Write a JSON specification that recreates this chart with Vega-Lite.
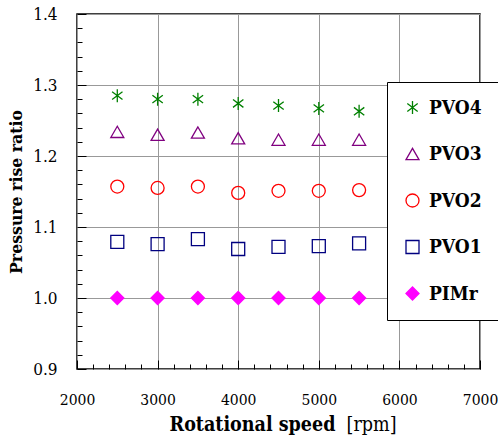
{
  "$schema": "https://vega.github.io/schema/vega-lite/v6.json",
  "width": 403,
  "height": 355,
  "autosize": {"type": "none"},
  "padding": {"left": 77, "top": 14, "right": 18, "bottom": 75},
  "background": "white",
  "config": {
    "view": {"stroke": "black", "strokeWidth": 1.5},
    "font": "DejaVu Serif Condensed"
  },
  "data": {
    "values": [
      {"speed": 2500, "ratio": 1.285, "series": "PVO4"},
      {"speed": 3000, "ratio": 1.280, "series": "PVO4"},
      {"speed": 3500, "ratio": 1.280, "series": "PVO4"},
      {"speed": 4000, "ratio": 1.274, "series": "PVO4"},
      {"speed": 4500, "ratio": 1.271, "series": "PVO4"},
      {"speed": 5000, "ratio": 1.267, "series": "PVO4"},
      {"speed": 5500, "ratio": 1.263, "series": "PVO4"},
      {"speed": 2500, "ratio": 1.234, "series": "PVO3"},
      {"speed": 3000, "ratio": 1.230, "series": "PVO3"},
      {"speed": 3500, "ratio": 1.233, "series": "PVO3"},
      {"speed": 4000, "ratio": 1.225, "series": "PVO3"},
      {"speed": 4500, "ratio": 1.223, "series": "PVO3"},
      {"speed": 5000, "ratio": 1.223, "series": "PVO3"},
      {"speed": 5500, "ratio": 1.223, "series": "PVO3"},
      {"speed": 2500, "ratio": 1.157, "series": "PVO2"},
      {"speed": 3000, "ratio": 1.155, "series": "PVO2"},
      {"speed": 3500, "ratio": 1.157, "series": "PVO2"},
      {"speed": 4000, "ratio": 1.148, "series": "PVO2"},
      {"speed": 4500, "ratio": 1.151, "series": "PVO2"},
      {"speed": 5000, "ratio": 1.151, "series": "PVO2"},
      {"speed": 5500, "ratio": 1.152, "series": "PVO2"},
      {"speed": 2500, "ratio": 1.079, "series": "PVO1"},
      {"speed": 3000, "ratio": 1.076, "series": "PVO1"},
      {"speed": 3500, "ratio": 1.083, "series": "PVO1"},
      {"speed": 4000, "ratio": 1.069, "series": "PVO1"},
      {"speed": 4500, "ratio": 1.072, "series": "PVO1"},
      {"speed": 5000, "ratio": 1.073, "series": "PVO1"},
      {"speed": 5500, "ratio": 1.077, "series": "PVO1"},
      {"speed": 2500, "ratio": 1.0, "series": "PIMr"},
      {"speed": 3000, "ratio": 1.0, "series": "PIMr"},
      {"speed": 3500, "ratio": 1.0, "series": "PIMr"},
      {"speed": 4000, "ratio": 1.0, "series": "PIMr"},
      {"speed": 4500, "ratio": 1.0, "series": "PIMr"},
      {"speed": 5000, "ratio": 1.0, "series": "PIMr"},
      {"speed": 5500, "ratio": 1.0, "series": "PIMr"}
    ]
  },
  "resolve": {"axis": {"x": "independent"}},
  "layer": [
    {
      "mark": {"type": "point", "size": 169, "strokeWidth": 1.3, "opacity": 1},
      "encoding": {
        "x": {
          "field": "speed",
          "type": "quantitative",
          "scale": {"domain": [2000, 7000], "nice": false, "zero": false},
          "axis": {
            "orient": "bottom",
            "title": "Rotational speed",
            "titleFont": "DejaVu Serif Condensed",
            "titleFontSize": 19.5,
            "titleFontWeight": "bold",
            "titleColor": "black",
            "titleBaseline": "top",
            "titleX": 175,
            "titleY": 46,
            "values": [2000, 2200, 2400, 2600, 2800, 3000, 3200, 3400, 3600, 3800, 4000, 4200, 4400, 4600, 4800, 5000, 5200, 5400, 5600, 5800, 6000, 6200, 6400, 6600, 6800, 7000],
            "labelExpr": "datum.value % 1000 === 0 ? format(datum.value, 'd') : ''",
            "labelFont": "DejaVu Serif Condensed",
            "labelFontSize": 15.5,
            "labelColor": "black",
            "labelPadding": 32,
            "labelFlush": false,
            "labelOverlap": false,
            "domain": false,
            "tickColor": "black",
            "tickWidth": 1,
            "tickSize": {"condition": {"test": "datum.value % 1000 === 0", "value": -9}, "value": -5},
            "grid": true,
            "gridColor": "#999999",
            "gridWidth": 1,
            "gridOpacity": {"condition": {"test": "datum.value % 1000 === 0", "value": 1}, "value": 0}
          }
        },
        "y": {
          "field": "ratio",
          "type": "quantitative",
          "scale": {"domain": [0.9, 1.4], "nice": false, "zero": false},
          "axis": {
            "title": "Pressure rise ratio",
            "titleFont": "DejaVu Serif Condensed",
            "titleFontSize": 17.5,
            "titleFontWeight": "bold",
            "titleColor": "black",
            "titlePadding": 7,
            "values": [0.9, 0.92, 0.94, 0.96, 0.98, 1.0, 1.02, 1.04, 1.06, 1.08, 1.1, 1.12, 1.14, 1.16, 1.18, 1.2, 1.22, 1.24, 1.26, 1.28, 1.3, 1.32, 1.34, 1.36, 1.38, 1.4],
            "labelExpr": "abs(datum.value * 10 - round(datum.value * 10)) < 0.01 ? format(datum.value, '.1f') : ''",
            "labelFont": "DejaVu Serif Condensed",
            "labelFontSize": 17,
            "labelColor": "black",
            "labelPadding": 29,
            "labelFlush": false,
            "labelOverlap": false,
            "domain": false,
            "tickColor": "black",
            "tickWidth": 1,
            "tickSize": {"condition": {"test": "abs(datum.value * 10 - round(datum.value * 10)) < 0.01", "value": -9}, "value": -5},
            "grid": true,
            "gridColor": "#999999",
            "gridWidth": 1,
            "gridOpacity": {"condition": {"test": "abs(datum.value * 10 - round(datum.value * 10)) < 0.01", "value": 1}, "value": 0}
          }
        },
        "shape": {
          "field": "series",
          "type": "nominal",
          "scale": {
            "domain": ["PVO4", "PVO3", "PVO2", "PVO1", "PIMr"],
            "range": ["M0,-1L0,1M-0.8,-0.6L0.8,0.6M-0.8,0.6L0.8,-0.6", "triangle-up", "circle", "square", "diamond"]
          },
          "legend": {
            "title": null,
            "orient": "none",
            "legendX": 310,
            "legendY": 68,
            "direction": "vertical",
            "padding": 16,
            "rowPadding": 26.5,
            "strokeColor": "black",
            "fillColor": "white",
            "cornerRadius": 0,
            "symbolSize": 169,
            "symbolStrokeWidth": 1.3,
            "labelFont": "DejaVu Serif Condensed",
            "labelFontSize": 19,
            "labelFontWeight": "bold",
            "labelColor": "black",
            "labelOffset": 7
          }
        },
        "stroke": {
          "field": "series",
          "type": "nominal",
          "scale": {
            "domain": ["PVO4", "PVO3", "PVO2", "PVO1", "PIMr"],
            "range": ["#008000", "#800080", "#ff0000", "#000080", "#ff00ff"]
          },
          "legend": {
            "title": null,
            "orient": "none",
            "legendX": 310,
            "legendY": 68,
            "direction": "vertical",
            "padding": 16,
            "rowPadding": 26.5,
            "strokeColor": "black",
            "fillColor": "white",
            "cornerRadius": 0,
            "symbolSize": 169,
            "symbolStrokeWidth": 1.3,
            "labelFont": "DejaVu Serif Condensed",
            "labelFontSize": 19,
            "labelFontWeight": "bold",
            "labelColor": "black",
            "labelOffset": 7
          }
        },
        "fill": {
          "field": "series",
          "type": "nominal",
          "scale": {
            "domain": ["PVO4", "PVO3", "PVO2", "PVO1", "PIMr"],
            "range": ["transparent", "transparent", "transparent", "transparent", "#ff00ff"]
          },
          "legend": {
            "title": null,
            "orient": "none",
            "legendX": 310,
            "legendY": 68,
            "direction": "vertical",
            "padding": 16,
            "rowPadding": 26.5,
            "strokeColor": "black",
            "fillColor": "white",
            "cornerRadius": 0,
            "symbolSize": 169,
            "symbolStrokeWidth": 1.3,
            "labelFont": "DejaVu Serif Condensed",
            "labelFontSize": 19,
            "labelFontWeight": "bold",
            "labelColor": "black",
            "labelOffset": 7
          }
        }
      }
    },
    {
      "transform": [{"filter": "false"}],
      "mark": {"type": "point"},
      "encoding": {
        "x": {
          "field": "speed",
          "type": "quantitative",
          "scale": {"domain": [2000, 7000], "nice": false, "zero": false},
          "axis": {
            "orient": "bottom",
            "title": "[rpm]",
            "titleFont": "DejaVu Serif Condensed",
            "titleFontSize": 19.5,
            "titleFontWeight": "normal",
            "titleColor": "black",
            "titleBaseline": "top",
            "titleX": 294,
            "titleY": 46,
            "labels": false,
            "ticks": false,
            "grid": false,
            "domain": false
          }
        }
      }
    }
  ]
}
